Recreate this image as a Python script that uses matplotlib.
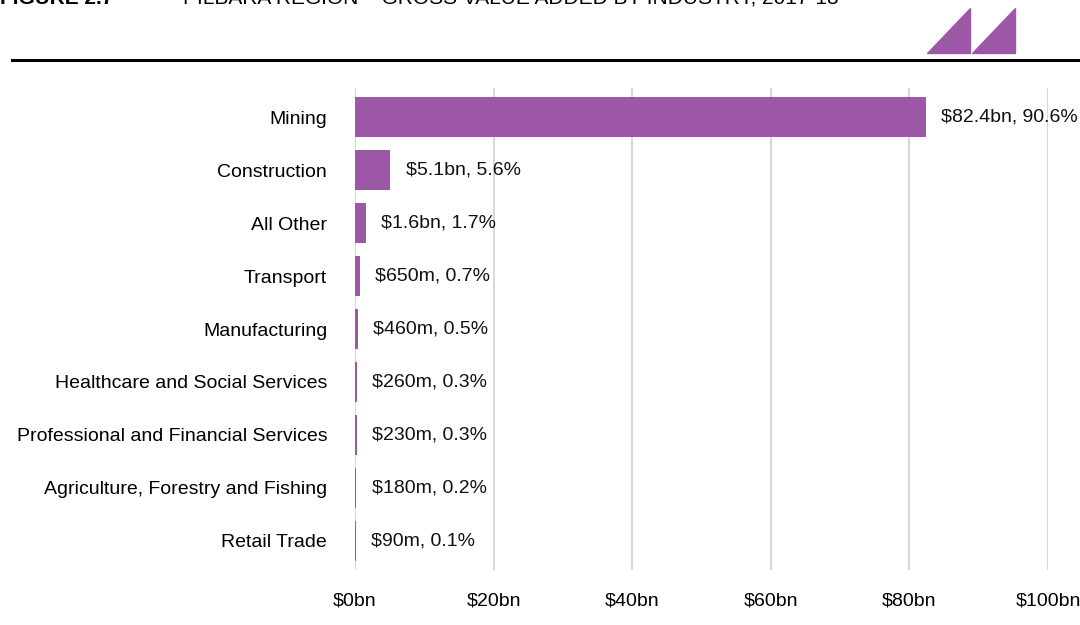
import matplotlib
matplotlib.use("Agg")
import matplotlib.pyplot as plt
from matplotlib.patches import Polygon
from matplotlib.lines import Line2D
from matplotlib import font_manager

names = {f.name for f in font_manager.fontManager.ttflist}
FONT = ["Liberation Sans Narrow", "Liberation Sans", "DejaVu Sans"]
FONT = [f for f in FONT if f in names] or ["DejaVu Sans"]
plt.rcParams['font.family'] = FONT

categories = ["Mining", "Construction", "All Other", "Transport", "Manufacturing",
              "Healthcare and Social Services", "Professional and Financial Services",
              "Agriculture, Forestry and Fishing", "Retail Trade"]
values_bn = [82.4, 5.1, 1.6, 0.65, 0.46, 0.26, 0.23, 0.18, 0.09]
value_labels = ["$82.4bn, 90.6%", "$5.1bn, 5.6%", "$1.6bn, 1.7%", "$650m, 0.7%",
                "$460m, 0.5%", "$260m, 0.3%", "$230m, 0.3%", "$180m, 0.2%", "$90m, 0.1%"]
xticks = [0, 20, 40, 60, 80, 100]
xtick_labels = ["$0bn", "$20bn", "$40bn", "$60bn", "$80bn", "$100bn"]

PURPLE = "#9D57A7"
W, H = 1080, 625
fig = plt.figure(figsize=(W/100, H/100), dpi=100)

ax = fig.add_axes([355/W, 1-570/H, (1048-355)/W, (570-88)/H])
ypos = list(range(len(categories)))
ax.barh(ypos, values_bn, height=0.75, color=PURPLE, zorder=3)
ax.set_ylim(len(categories)-0.45, -0.55)
ax.set_xlim(0, 100)
ax.set_xticks(xticks)
ax.set_xticklabels(xtick_labels)
ax.set_yticks(ypos)
ax.set_yticklabels(categories)
ax.tick_params(axis='y', length=0, pad=20, labelsize=14)
ax.tick_params(axis='x', length=0, pad=16, labelsize=14)
ax.grid(axis='x', color="#D9D9D9", linewidth=1.5, zorder=0)
for s in ax.spines.values():
    s.set_visible(False)
for y, v, lab in zip(ypos, values_bn, value_labels):
    ax.annotate(lab, (v, y), xytext=(11, 0), textcoords='offset points',
                va='center', ha='left', fontsize=14, color='#111111')

# header (cut off at the top edge, as in the reference)
fig.text(0/W, 1-4/H, "FIGURE 2.7", fontsize=15, fontweight='bold', va='baseline', ha='left')
fig.text(183/W, 1-4/H, "PILBARA REGION – GROSS VALUE ADDED BY INDUSTRY, 2017-18",
         fontsize=15, va='baseline', ha='left')
fig.add_artist(Line2D([12/W, 1], [1-60/H, 1-60/H], color='black', linewidth=2.2,
                      transform=fig.transFigure))
for x0 in (927, 972):
    fig.add_artist(Polygon([[x0/W, 1-53/H], [(x0+43)/W, 1-53/H], [(x0+43)/W, 1-8/H]],
                           closed=True, color=PURPLE, transform=fig.transFigure))

fig.savefig("out.png", dpi=100)
